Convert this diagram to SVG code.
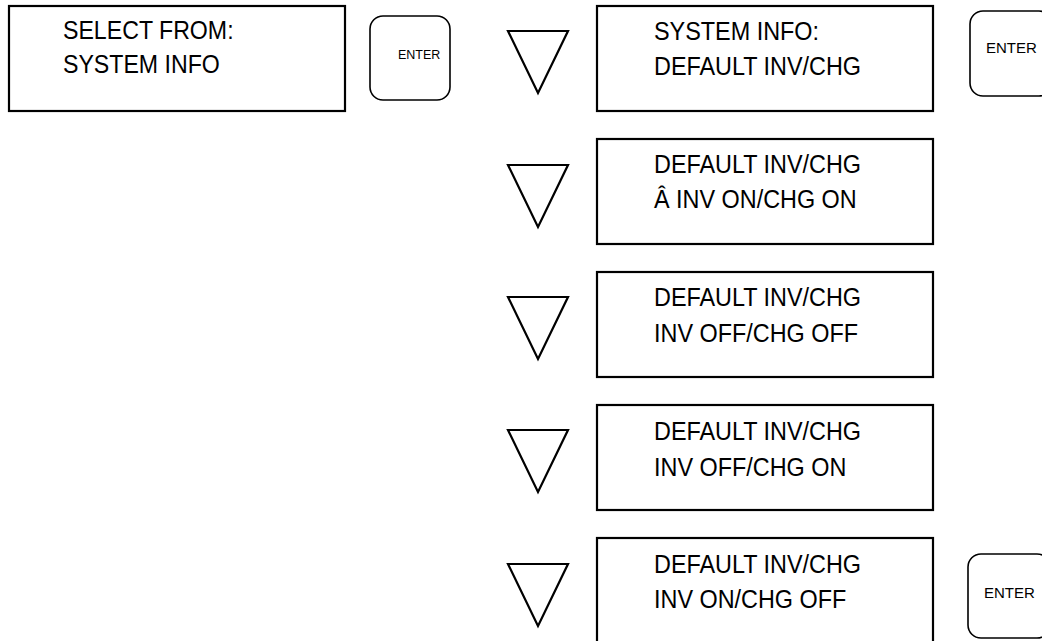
<svg xmlns="http://www.w3.org/2000/svg" width="1042" height="641" viewBox="0 0 1042 641">
<style>
.box{fill:#fff;stroke:#000;stroke-width:2.2}
.btn{fill:#fff;stroke:#000;stroke-width:1.6}
.tri{fill:none;stroke:#000;stroke-width:2.2;stroke-linejoin:miter}
.lcd{font-family:"Liberation Sans",Arial,sans-serif;font-size:26px;fill:#000}
.key{font-family:"Liberation Sans",Arial,sans-serif;fill:#000}
</style>
<rect width="1042" height="641" fill="#fff"/>

<g id="select-from">
<rect class="box" x="9" y="6" width="336" height="105"/>
<text class="lcd" transform="translate(63,39) scale(0.89,1)">SELECT FROM:</text>
<text class="lcd" transform="translate(63,73) scale(0.89,1)">SYSTEM INFO</text>
</g>

<g id="enter-1">
<rect class="btn" x="370" y="16" width="80" height="84" rx="13"/>
<text class="key" x="398" y="59" font-size="12.5">ENTER</text>
</g>

<g id="system-info">
<rect class="box" x="597" y="6" width="336" height="105"/>
<text class="lcd" transform="translate(654,40) scale(0.9,1)">SYSTEM INFO:</text>
<text class="lcd" transform="translate(654,75) scale(0.9,1)">DEFAULT INV/CHG</text>
</g>

<g id="enter-2">
<rect class="btn" x="970" y="11" width="82" height="85" rx="13"/>
<text class="key" x="986" y="53" font-size="15">ENTER</text>
</g>

<g id="inv-on-chg-on">
<rect class="box" x="597" y="139" width="336" height="105"/>
<text class="lcd" transform="translate(654,173) scale(0.9,1)">DEFAULT INV/CHG</text>
<text class="lcd" transform="translate(654,208) scale(0.9,1)">Â INV ON/CHG ON</text>
</g>

<g id="inv-off-chg-off">
<rect class="box" x="597" y="272" width="336" height="105"/>
<text class="lcd" transform="translate(654,306) scale(0.9,1)">DEFAULT INV/CHG</text>
<text class="lcd" transform="translate(654,342) scale(0.9,1)">INV OFF/CHG OFF</text>
</g>

<g id="inv-off-chg-on">
<rect class="box" x="597" y="405" width="336" height="105"/>
<text class="lcd" transform="translate(654,440) scale(0.9,1)">DEFAULT INV/CHG</text>
<text class="lcd" transform="translate(654,476) scale(0.9,1)">INV OFF/CHG ON</text>
</g>

<g id="inv-on-chg-off">
<rect class="box" x="597" y="538" width="336" height="110"/>
<text class="lcd" transform="translate(654,573) scale(0.9,1)">DEFAULT INV/CHG</text>
<text class="lcd" transform="translate(654,608) scale(0.9,1)">INV ON/CHG OFF</text>
</g>

<g id="enter-3">
<rect class="btn" x="968" y="554" width="82" height="84" rx="13"/>
<text class="key" x="984" y="598" font-size="15">ENTER</text>
</g>

<g id="connectors">
<polygon class="tri" points="508,31 568,31 538,93"/>
<polygon class="tri" points="508,165 568,165 538,227"/>
<polygon class="tri" points="508,297 568,297 538,359"/>
<polygon class="tri" points="508,430 568,430 538,492"/>
<polygon class="tri" points="508,564 568,564 538,626"/>
</g>
</svg>
